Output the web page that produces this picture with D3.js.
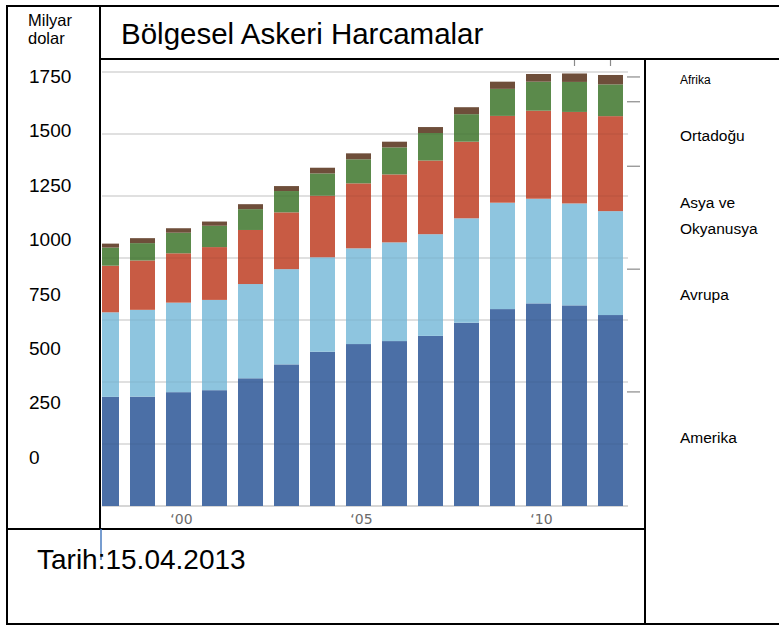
<!DOCTYPE html>
<html><head><meta charset="utf-8">
<script src="https://cdn.jsdelivr.net/npm/d3@7"></script>
<style>
body{margin:0;background:#fff;}
svg{display:block;font-family:"Liberation Sans",Arial,sans-serif;}
</style></head>
<body><svg id="c" width="779" height="625"></svg>
<script>
const years = [1998,1999,2000,2001,2002,2003,2004,2005,2006,2007,2008,2009,2010,2011,2012];
const amerika  = [440,441,459,467,515,571,622,653,665,686,739,794,817,809,770];
const avrupa   = [341,350,361,364,380,384,381,386,398,410,421,429,422,411,419];
const asya     = [188,199,199,213,218,229,248,262,274,297,309,350,355,369,383];
const ortadogu = [73,70,83,86,84,86,90,97,109,111,111,109,117,121,128];
const afrika   = [16,20,18,17,20,20,23,24,23,24,28,29,31,34,38];
const seriesNames = ["Amerika","Avrupa","Asya ve Okyanusya","Ortadoğu","Afrika"];
const seriesColors = ["#4b6fa6","#8ec5df","#c85b44","#5b8a4b","#6e4e3a"];
const yTickLabels = [0,250,500,750,1000,1250,1500,1750];
const gridValues = [0,250,500,750,1000,1250,1500,1750];
const xTickYears = [2000,2005,2010];
const xTickLabels = ["‘00","‘05","‘10"];
const legendTickValues = [1730,1630,1370,955,460];
const topTickYears = [2011,2012];

const svg = d3.select("#c");
const keys = ["am","eu","as","me","af"];
const rows = years.map((y,i)=>({year:y, am:amerika[i], eu:avrupa[i], as:asya[i], me:ortadogu[i], af:afrika[i]}));
const stacked = d3.stack().keys(keys)(rows);

const x = d3.scaleBand().domain(years).range([88.5,628.5]).paddingInner(11/36).paddingOuter(11/72);
const y = d3.scaleLinear().domain([0,1750]).range([506,72]);
const labelY = d3.scaleLinear().domain([0,1750]).range([457,76]);

svg.append("defs").append("clipPath").attr("id","pc")
  .append("rect").attr("x",102).attr("y",60).attr("width",543).attr("height",468);
const plot = svg.append("g").attr("clip-path","url(#pc)");

plot.append("g").selectAll("line").data(gridValues).join("line")
  .attr("x1",101).attr("x2",628).attr("y1",d=>y(d)).attr("y2",d=>y(d))
  .attr("stroke", d=> d===0 ? "#c8c8c8" : "#e2e2e2").attr("stroke-width",1.5);

plot.append("g").selectAll("g").data(stacked).join("g")
  .attr("fill",(d,i)=>seriesColors[i])
  .selectAll("rect").data(d=>d).join("rect")
  .attr("x",d=>x(d.data.year)).attr("width",x.bandwidth())
  .attr("y",d=>y(d[1])).attr("height",d=>y(d[0])-y(d[1]));

plot.append("g").selectAll("line").data(gridValues.filter(d=>d>0)).join("line")
  .attr("x1",101).attr("x2",628).attr("y1",d=>y(d)).attr("y2",d=>y(d))
  .attr("stroke","#000").attr("stroke-opacity",0.07).attr("stroke-width",1.2);

plot.append("g").selectAll("text").data(xTickYears).join("text")
  .attr("x",(d)=>x(d)+x.bandwidth()/2+3).attr("y",524)
  .attr("text-anchor","middle").attr("font-family","DejaVu Sans, sans-serif")
  .attr("font-size",14).attr("fill","#6a6a6a")
  .text((d,i)=>xTickLabels[i]);

plot.append("g").selectAll("line").data(legendTickValues).join("line")
  .attr("x1",627).attr("x2",640).attr("y1",d=>y(d)).attr("y2",d=>y(d))
  .attr("stroke","#8a8a8a").attr("stroke-width",1.2);
plot.append("g").selectAll("line").data(topTickYears).join("line")
  .attr("x1",d=>x(d)+x.bandwidth()/2).attr("x2",d=>x(d)+x.bandwidth()/2)
  .attr("y1",60).attr("y2",66).attr("stroke","#8a8a8a").attr("stroke-width",1.2);

const frame = [
  [7,6,779,6],[7,5,7,625],[7,624,779,624],
  [100,6,100,529],[100,59,779,59],[645,59,645,624],[7,529,645,529]
];
svg.append("g").selectAll("line").data(frame).join("line")
  .attr("x1",d=>d[0]).attr("y1",d=>d[1]).attr("x2",d=>d[2]).attr("y2",d=>d[3])
  .attr("stroke","#000").attr("stroke-width",2);

svg.append("line").attr("x1",101).attr("x2",101).attr("y1",529).attr("y2",560)
  .attr("stroke","#4a7cc0").attr("stroke-width",1.5);

svg.append("text").attr("x",121).attr("y",44).attr("font-size",29.5).attr("fill","#000")
  .text("Bölgesel Askeri Harcamalar");

svg.append("text").attr("x",28).attr("y",26).attr("font-size",16.5).text("Milyar");
svg.append("text").attr("x",28).attr("y",44).attr("font-size",16.5).text("dolar");

svg.append("g").selectAll("text").data(yTickLabels).join("text")
  .attr("x",29).attr("y",d=>labelY(d)).attr("dy","0.36em")
  .attr("font-size",19).attr("fill","#000").text(d=>d);

const leg = svg.append("g").attr("font-size",15.5).attr("fill","#000");
leg.append("text").attr("x",680).attr("y",84).attr("font-size",12).text(seriesNames[4]);
leg.append("text").attr("x",680).attr("y",141).text(seriesNames[3]);
leg.append("text").attr("x",680).attr("y",208).text("Asya ve");
leg.append("text").attr("x",680).attr("y",234).text("Okyanusya");
leg.append("text").attr("x",680).attr("y",300).text(seriesNames[1]);
leg.append("text").attr("x",680).attr("y",443).text(seriesNames[0]);

svg.append("text").attr("x",37).attr("y",569).attr("font-size",28).text("Tarih:15.04.2013");
</script></body></html>
